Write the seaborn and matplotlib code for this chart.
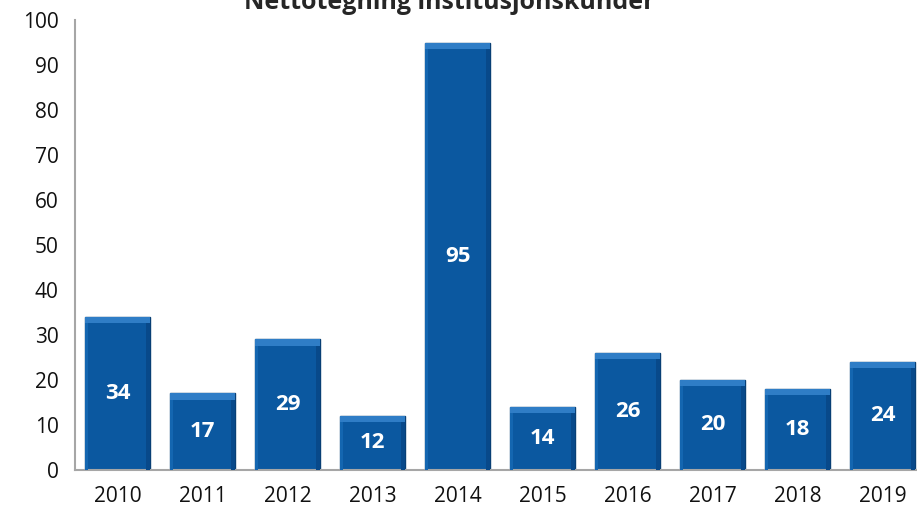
import matplotlib
matplotlib.use("Agg")
import matplotlib.pyplot as plt
import seaborn as sns
import pandas as pd

years = ["2010", "2011", "2012", "2013", "2014", "2015", "2016", "2017", "2018", "2019"]
values = [34, 17, 29, 12, 95, 14, 26, 20, 18, 24]
title = "Nettotegning institusjonskunder"

df = pd.DataFrame({"year": years, "value": values})

sns.set_style("white")
plt.rcParams["font.family"] = ["Open Sans", "DejaVu Sans"]

fig = plt.figure(figsize=(9.17, 5.18), dpi=100)
ax = fig.add_axes([0.082, 0.093, 0.927, 0.868])

sns.barplot(data=df, x="year", y="value", ax=ax, color="#0B58A0",
            width=0.76, saturation=1, edgecolor="#083F75", linewidth=1.0)

# simple bevel: lighter top band, darker right edge, lighter left edge
for p in ax.patches:
    x, w, h = p.get_x(), p.get_width(), p.get_height()
    ax.add_patch(plt.Rectangle((x, h - 1.4), w, 1.4, color="#2F7DC6", zorder=3, lw=0))
    ax.add_patch(plt.Rectangle((x + w * 0.94, 0), w * 0.06, h - 1.4, color="#08498A", zorder=3, lw=0))
    ax.add_patch(plt.Rectangle((x, 0), w * 0.04, h - 1.4, color="#1466B0", zorder=3, lw=0))

for p, v in zip(ax.patches[:len(values)], values):
    ax.text(p.get_x() + p.get_width() / 2, v / 2, str(v), ha="center", va="center",
            color="white", fontsize=16, fontweight="bold", zorder=4)

ax.set_ylim(0, 100)
ax.set_yticks(range(0, 101, 10))
ax.set_xlim(-0.5, len(years) - 0.5)
ax.set_xlabel("")
ax.set_ylabel("")
ax.tick_params(axis="both", length=0, labelsize=15, colors="#111111")
ax.tick_params(axis="x", pad=12)
ax.tick_params(axis="y", pad=12)
for s in ["top", "right"]:
    ax.spines[s].set_visible(False)
for s in ["left", "bottom"]:
    ax.spines[s].set_color("#A6A6A6")
    ax.spines[s].set_linewidth(1.5)

fig.text(0.49, 0.982, title, ha="center", va="baseline", fontsize=18, fontweight="bold")

fig.savefig("out.png", dpi=100)
